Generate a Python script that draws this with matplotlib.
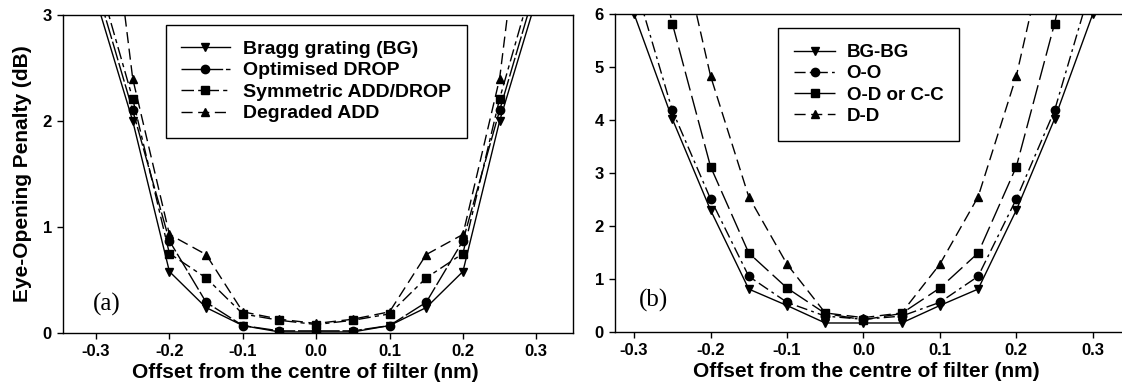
import matplotlib
matplotlib.use('Agg')
import matplotlib.pyplot as plt

plt.rcParams['font.family'] = ['Liberation Sans', 'DejaVu Sans']

# Panel (a): single filter types
x_a = [-0.30, -0.25, -0.20, -0.15, -0.10, -0.05, 0.00, 0.05, 0.10, 0.15, 0.20, 0.25, 0.30]
bg_a = [3.15, 2.00, 0.58, 0.24, 0.07, 0.01, 0.01, 0.01, 0.07, 0.24, 0.58, 2.00, 3.15]
opt_a = [3.28, 2.10, 0.87, 0.29, 0.07, 0.02, 0.02, 0.02, 0.07, 0.29, 0.87, 2.10, 3.28]
sym_a = [3.42, 2.21, 0.75, 0.52, 0.18, 0.12, 0.08, 0.12, 0.18, 0.52, 0.75, 2.21, 3.42]
deg_a = [5.20, 2.40, 0.93, 0.74, 0.20, 0.13, 0.09, 0.13, 0.20, 0.74, 0.93, 2.40, 5.20]
labels_a = ['Bragg grating (BG)', 'Optimised DROP', 'Symmetric ADD/DROP', 'Degraded ADD']

# Panel (b): filter pairs
x_b = [-0.30, -0.25, -0.20, -0.15, -0.10, -0.05, 0.00, 0.05, 0.10, 0.15, 0.20, 0.25, 0.30]
bgbg_b = [6.00, 4.02, 2.30, 0.81, 0.50, 0.17, 0.17, 0.17, 0.50, 0.81, 2.30, 4.02, 6.00]
oo_b = [6.63, 4.18, 2.51, 1.05, 0.56, 0.30, 0.24, 0.30, 0.56, 1.05, 2.51, 4.18, 6.63]
od_b = [9.00, 5.82, 3.12, 1.49, 0.83, 0.35, 0.23, 0.35, 0.83, 1.49, 3.12, 5.82, 9.00]
x_dd = [-0.25, -0.20, -0.15, -0.10, -0.05, 0.00, 0.05, 0.10, 0.15, 0.20, 0.25]
dd_b = [8.00, 4.83, 2.55, 1.28, 0.36, 0.27, 0.36, 1.28, 2.55, 4.83, 8.00]
labels_b = ['BG-BG', 'O-O', 'O-D or C-C', 'D-D']

xticks = [-0.3, -0.2, -0.1, 0.0, 0.1, 0.2, 0.3]
xtick_labels = ['-0.3', '-0.2', '-0.1', '0.0', '0.1', '0.2', '0.3']

W, H = 1122, 388
fig = plt.figure(figsize=(W / 100, H / 100), dpi=100)


def px_axes(left, top, right, bottom):
    return fig.add_axes([left / W, 1 - bottom / H, (right - left) / W, (bottom - top) / H])


def style_axes(ax, label_x):
    ax.tick_params(direction='out', length=4, width=1, labelsize=12, pad=4)
    for lab in ax.get_xticklabels() + ax.get_yticklabels():
        lab.set_fontweight('bold')
    for sp in ax.spines.values():
        sp.set_linewidth(1.0)
    ax.set_xticks(xticks)
    ax.set_xticklabels(xtick_labels, fontweight='bold')
    ax.set_xlabel('Offset from the centre of filter (nm)', fontsize=15, fontweight='bold')
    ax.xaxis.set_label_coords(label_x, -0.095)


mk = dict(color='black', lw=1.0, markersize=6, clip_on=True)

# ---- panel (a)
ax1 = px_axes(63, 15, 573, 333)
ax1.plot(x_a, bg_a, marker='v', linestyle='-', label=labels_a[0], **mk)
ax1.plot(x_a, opt_a, marker='o', linestyle=(0, (14, 2)), label=labels_a[1], **mk)
ax1.plot(x_a, sym_a, marker='s', linestyle=(0, (9, 3, 3, 3)), label=labels_a[2], **mk)
ax1.plot(x_a, deg_a, marker='^', linestyle=(0, (8, 4)), label=labels_a[3], **mk)
ax1.set_xlim(-0.345, 0.35)
ax1.set_ylim(0, 3)
ax1.set_yticks([0, 1, 2, 3])
style_axes(ax1, 0.476)
ax1.set_ylabel('Eye-Opening Penalty (dB)', fontsize=15, fontweight='bold', labelpad=8)
ax1.text(0.085, 0.09, '(a)', transform=ax1.transAxes, fontsize=18,
         family='Liberation Serif', ha='center', va='center')
leg1 = ax1.legend(loc='upper left', bbox_to_anchor=(0.182, 1.0), frameon=True, fancybox=False,
                  edgecolor='black', framealpha=1, handlelength=2.5, labelspacing=0.2,
                  borderpad=0.8, handletextpad=0.7, prop={'size': 14, 'weight': 'bold'})
leg1.get_frame().set_linewidth(1.0)

# ---- panel (b)
ax2 = px_axes(615, 14, 1131, 332)
ax2.plot(x_b, bgbg_b, marker='v', linestyle='-', label=labels_b[0], **mk)
ax2.plot(x_b, oo_b, marker='o', linestyle=(0, (8, 3, 2, 3)), label=labels_b[1], **mk)
ax2.plot(x_b, od_b, marker='s', linestyle=(0, (14, 4)), label=labels_b[2], **mk)
ax2.plot(x_dd, dd_b, marker='^', linestyle=(0, (8, 4)), label=labels_b[3], **mk)
ax2.set_xlim(-0.325, 0.35)
ax2.set_ylim(0, 6)
ax2.set_yticks([0, 1, 2, 3, 4, 5, 6])
style_axes(ax2, 0.488)
ax2.text(0.075, 0.1, '(b)', transform=ax2.transAxes, fontsize=18,
         family='Liberation Serif', ha='center', va='center')
leg2 = ax2.legend(loc='upper left', bbox_to_anchor=(0.298, 0.985), frameon=True, fancybox=False,
                  edgecolor='black', framealpha=1, handlelength=2.2, labelspacing=0.22,
                  borderpad=0.85, handletextpad=0.6, prop={'size': 13.5, 'weight': 'bold'})
leg2.get_frame().set_linewidth(1.0)

fig.savefig('out.png', dpi=100)
